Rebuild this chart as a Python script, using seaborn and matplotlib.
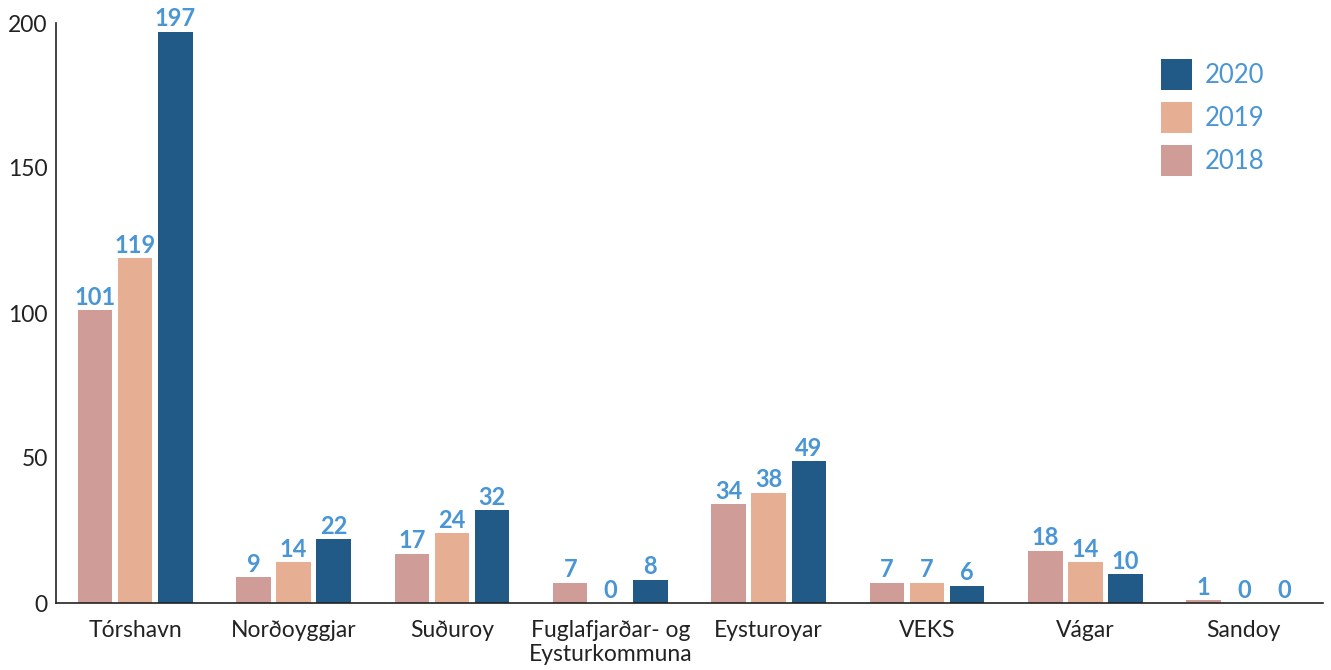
import matplotlib
matplotlib.use("Agg")
import matplotlib.pyplot as plt
import seaborn as sns
import pandas as pd
import numpy as np

categories = ["Tórshavn", "Norðoyggjar", "Suðuroy", "Fuglafjarðar- og\nEysturkommuna",
              "Eysturoyar", "VEKS", "Vágar", "Sandoy"]
v2018 = [101, 9, 17, 7, 34, 7, 18, 1]
v2019 = [119, 14, 24, 0, 38, 7, 14, 0]
v2020 = [197, 22, 32, 8, 49, 6, 10, 0]
years = ["2018", "2019", "2020"]
colors = {"2018": "#D09C98", "2019": "#E6AF94", "2020": "#225A87"}
label_color = "#4A96D4"

df = pd.DataFrame({
    "cat": categories * 3,
    "year": ["2018"] * 8 + ["2019"] * 8 + ["2020"] * 8,
    "val": v2018 + v2019 + v2020,
})

sns.set_theme(style="white")
plt.rcParams["font.family"] = ["Lato", "DejaVu Sans"]

fig = plt.figure(figsize=(13.31, 6.70), dpi=100)
ax = fig.add_axes([56/1331, 1-603/670, (1323-56)/1331, 580/670])

sns.barplot(data=df, x="cat", y="val", hue="year", hue_order=years, palette=colors,
            order=categories, width=0.76, gap=0.14, ax=ax, saturation=1, legend=True,
            linewidth=0)

for c in ax.containers:
    ax.bar_label(c, fmt="%d", color=label_color, fontsize=17, fontweight="bold", padding=1)

ax.set_ylim(0, 200)
ax.set_xlim(-0.5, 7.5)
ax.set_yticks([0, 50, 100, 150, 200])
ax.set_xlabel("")
ax.set_ylabel("")
for s in ["top", "right"]:
    ax.spines[s].set_visible(False)
for s in ["left", "bottom"]:
    ax.spines[s].set_color("#222222")
    ax.spines[s].set_linewidth(1.2)

ax.tick_params(axis="y", direction="in", length=10, width=1.2, color="#222222",
               labelsize=16.5, labelcolor="#222222", pad=6)
ax.tick_params(axis="x", which="major", length=0, labelsize=16.5, labelcolor="#222222", pad=12)
ax.set_xticks(np.arange(-0.5, 8, 1), minor=True)
ax.tick_params(axis="x", which="minor", direction="in", length=12, width=1.2, color="#222222")

handles, labels = ax.get_legend_handles_labels()
ax.get_legend().remove()
leg = fig.legend(handles[::-1], labels[::-1], loc="upper left",
                 bbox_to_anchor=(1161/1331, 1-59/670), bbox_transform=fig.transFigure,
                 frameon=False, fontsize=18.5, handlelength=1.21, handleheight=1.48,
                 handletextpad=0.5, labelspacing=0.47, borderpad=0, borderaxespad=0)
for t in leg.get_texts():
    t.set_color(label_color)

fig.savefig("out.png", dpi=100)
